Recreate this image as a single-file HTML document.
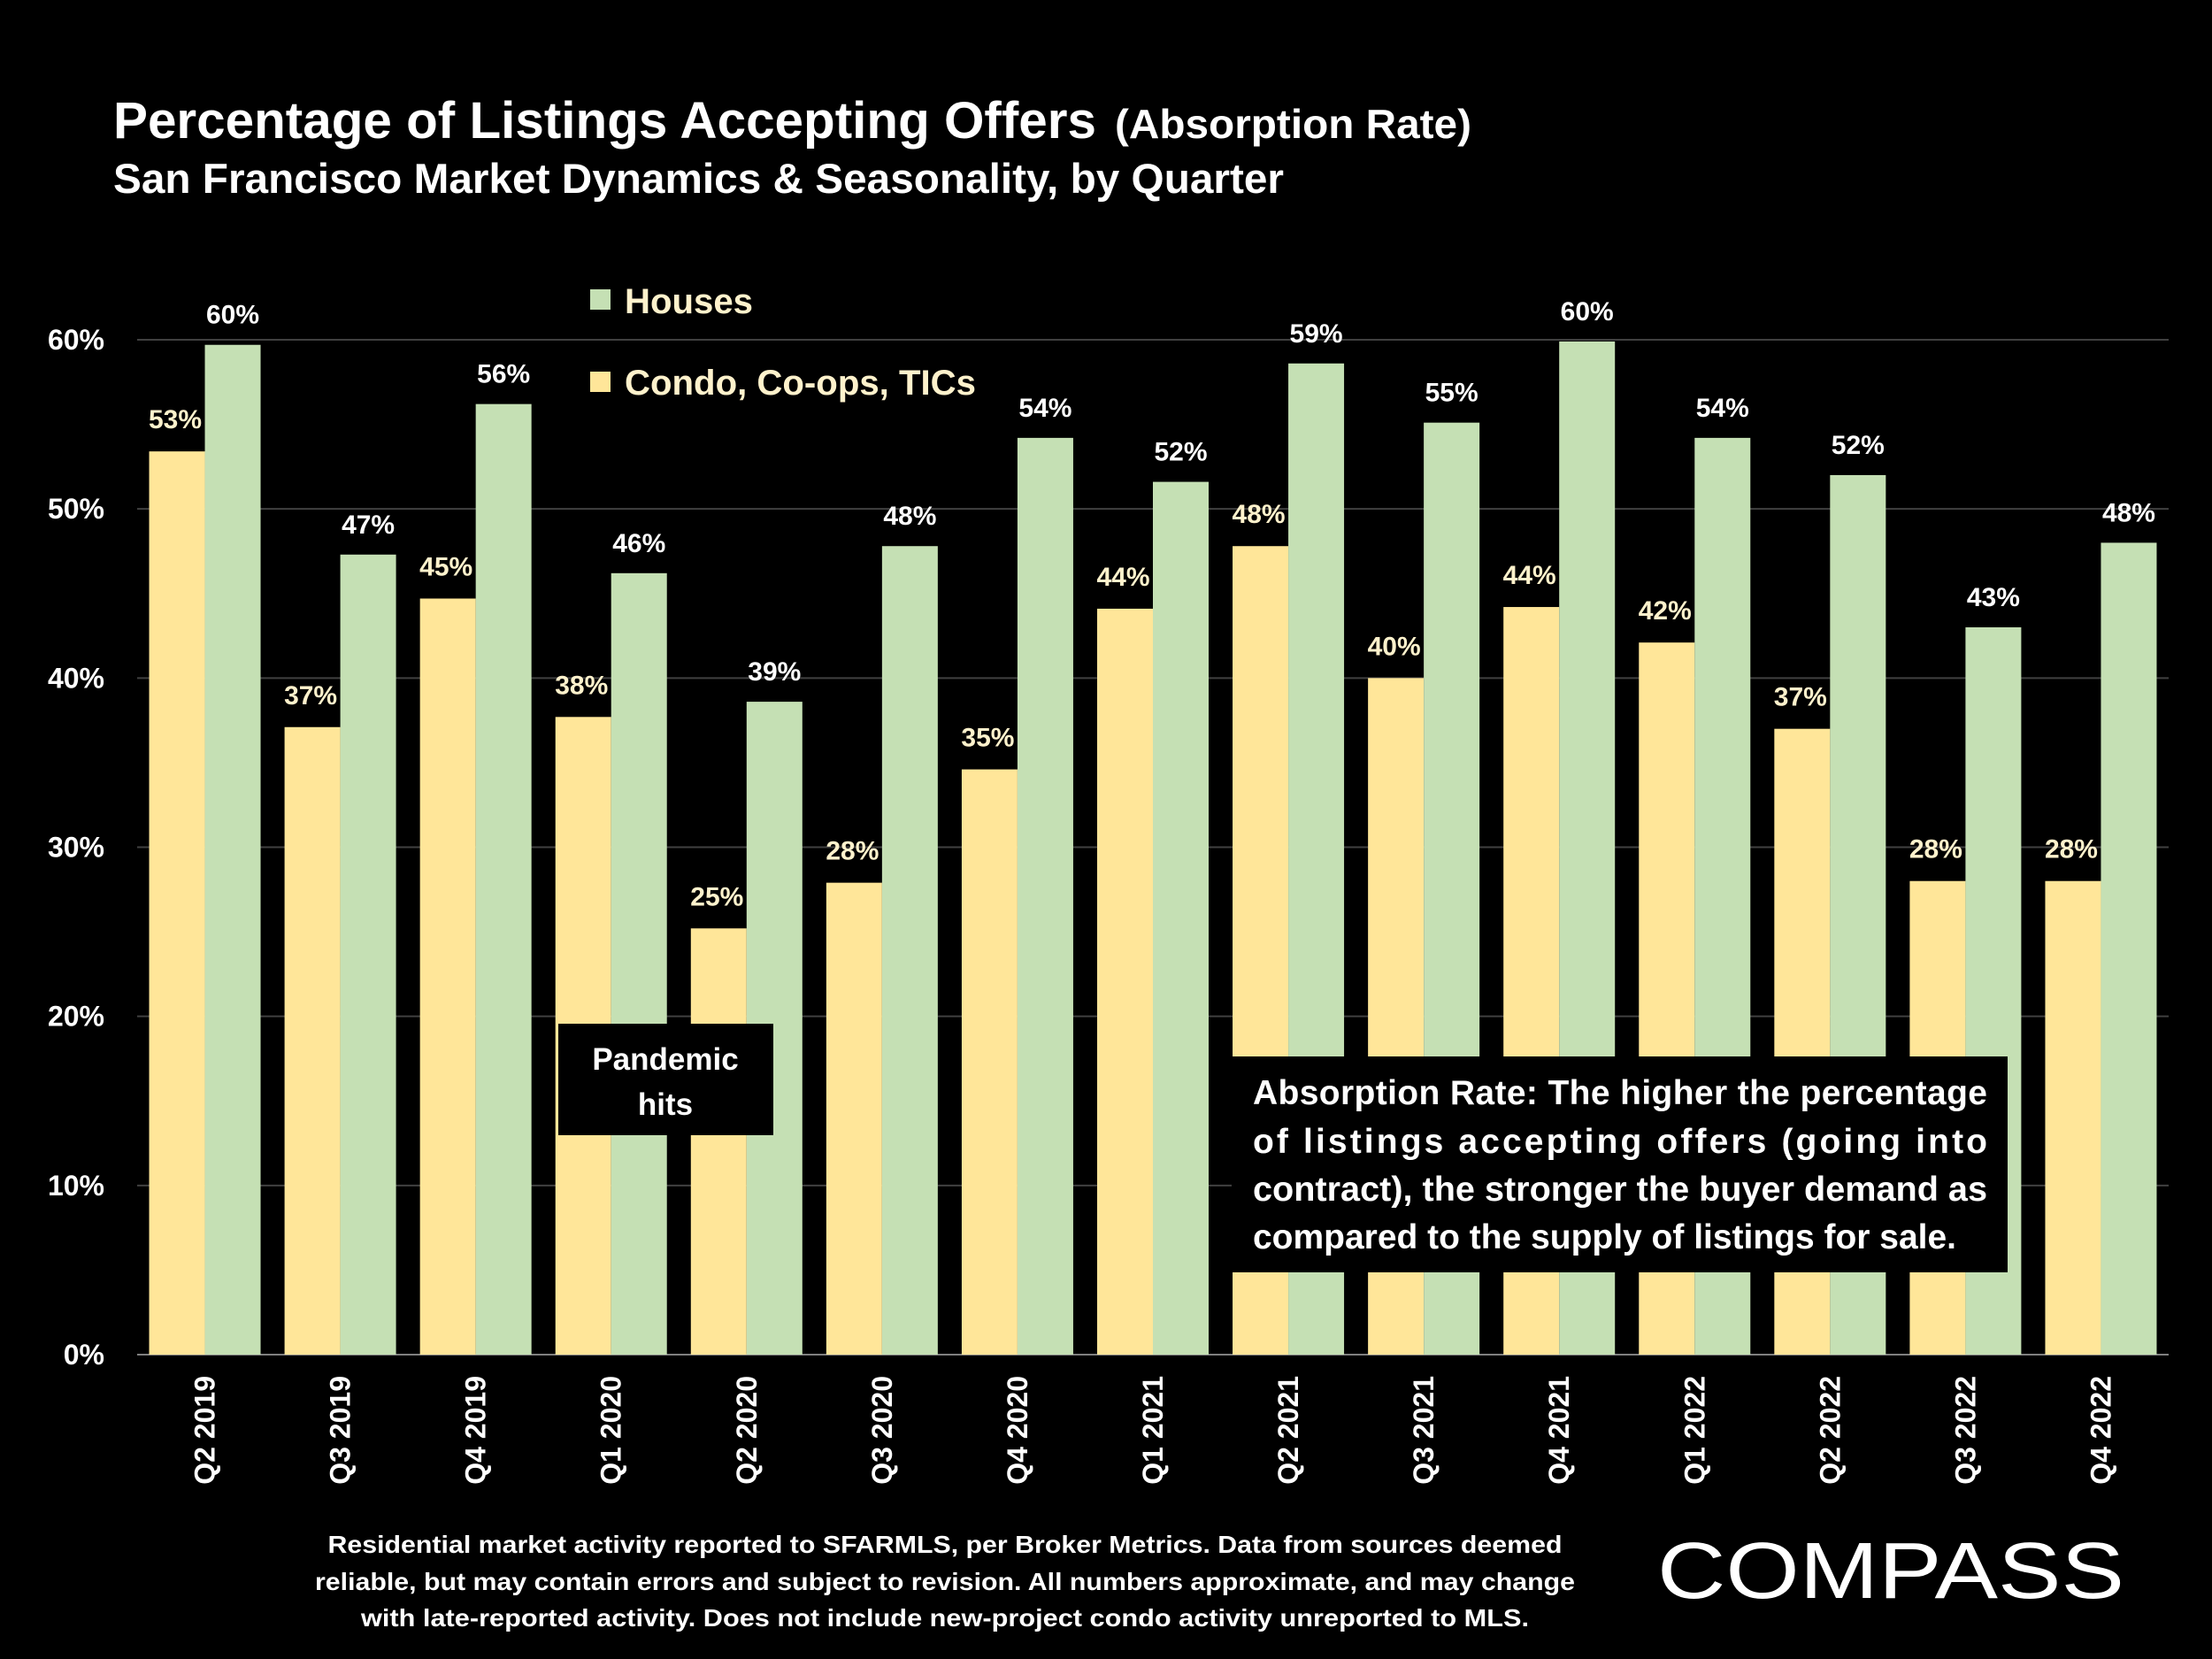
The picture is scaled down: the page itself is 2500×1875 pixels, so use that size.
<!DOCTYPE html>
<html><head><meta charset="utf-8">
<style>
html,body{margin:0;padding:0;background:#000;}
svg{display:block;font-family:"Liberation Sans",sans-serif;}
</style></head>
<body>
<svg id="chart" width="2500" height="1875" viewBox="0 0 2500 1875" xmlns="http://www.w3.org/2000/svg">
<rect width="2500" height="1875" fill="#000"/>
<text x="128" y="156" fill="#fff" font-weight="bold" font-size="58" textLength="1111" lengthAdjust="spacingAndGlyphs">Percentage of Listings Accepting Offers</text>
<text x="1260" y="156" fill="#fff" font-weight="bold" font-size="46" textLength="403" lengthAdjust="spacingAndGlyphs">(Absorption Rate)</text>
<text x="128" y="218" fill="#fff" font-weight="bold" font-size="47" textLength="1323" lengthAdjust="spacingAndGlyphs">San Francisco Market Dynamics &amp; Seasonality, by Quarter</text>
<g id="grid"></g>
<g id="yticks"></g>
<g id="bars"></g>
<g id="xlabels"></g>
<g>
<g>
<rect x="667" y="327" width="23" height="23" fill="#C5E0B4"/>
<text x="706" y="354" fill="#FFF2CC" font-weight="bold" font-size="40" textLength="145" lengthAdjust="spacingAndGlyphs">Houses</text></g>
<g>
<rect x="667" y="420" width="23" height="23" fill="#FFE699"/>
<text x="706" y="446" fill="#FFF2CC" font-weight="bold" font-size="40" textLength="397" lengthAdjust="spacingAndGlyphs">Condo, Co-ops, TICs</text></g>
</g>
<g>
<rect x="631" y="1157" width="243" height="126" fill="#000"/>
<text x="752" y="1209" fill="#fff" font-weight="bold" font-size="35" text-anchor="middle">Pandemic</text>
<text x="752" y="1260" fill="#fff" font-weight="bold" font-size="35" text-anchor="middle">hits</text>
</g>
<g>
<rect x="1392" y="1194" width="877" height="244" fill="#000"/>
<text x="1416" y="1248" fill="#fff" font-weight="bold" font-size="39" textLength="830" lengthAdjust="spacing">Absorption Rate: The higher the percentage</text>
<text x="1416" y="1303" fill="#fff" font-weight="bold" font-size="39" textLength="830" lengthAdjust="spacing">of listings accepting offers (going into</text>
<text x="1416" y="1357" fill="#fff" font-weight="bold" font-size="39" textLength="830" lengthAdjust="spacingAndGlyphs">contract), the stronger the buyer demand as</text>
<text x="1416" y="1411" fill="#fff" font-weight="bold" font-size="39" textLength="795" lengthAdjust="spacingAndGlyphs">compared to the supply of listings for sale.</text>
</g>
<g fill="#fff" font-weight="bold" font-size="28" text-anchor="middle">
<text x="1068" y="1755" textLength="1395" lengthAdjust="spacingAndGlyphs">Residential market activity reported to SFARMLS, per Broker Metrics. Data from sources deemed</text>
<text x="1068" y="1797" textLength="1424" lengthAdjust="spacingAndGlyphs">reliable, but may contain errors and subject to revision. All numbers approximate, and may change</text>
<text x="1068" y="1838" textLength="1320" lengthAdjust="spacingAndGlyphs">with late-reported activity. Does not include new-project condo activity unreported to MLS.</text>
</g>
<text x="1873" y="1806" fill="#fff" font-size="90" textLength="528" lengthAdjust="spacingAndGlyphs">COMPASS</text>
</svg>
<script>
const categories=["Q2 2019","Q3 2019","Q4 2019","Q1 2020","Q2 2020","Q3 2020","Q4 2020","Q1 2021","Q2 2021","Q3 2021","Q4 2021","Q1 2022","Q2 2022","Q3 2022","Q4 2022"];
const condoValues=[53.4,37.1,44.7,37.7,25.2,27.9,34.6,44.1,47.8,40.0,44.2,42.1,37.0,28.0,28.0];
const houseValues=[59.7,47.3,56.2,46.2,38.6,47.8,54.2,51.6,58.6,55.1,59.9,54.2,52.0,43.0,48.0];
const yTicks=[0,10,20,30,40,50,60];
const NS="http://www.w3.org/2000/svg";
const X0=155,X1=2451,Y0=1531,Y60=384;
const groupW=(X1-X0)/categories.length, barW=63;
function y(v){return Y0-(Y0-Y60)*v/60;}
function gx(i){return X0+i*groupW;}
function mk(tag,attrs,parent){const e=document.createElementNS(NS,tag);for(const k in attrs)e.setAttribute(k,attrs[k]);parent.appendChild(e);return e;}
const grid=document.getElementById('grid'),yt=document.getElementById('yticks'),bars=document.getElementById('bars'),xl=document.getElementById('xlabels');
yTicks.forEach(t=>{
  const l=mk('line',{x1:X0,x2:X1,y1:y(t),y2:y(t),stroke:t===0?'#7f7f7f':'#404040','stroke-width':2},grid);
  
  
  const tx=mk('text',{x:118,y:y(t)+11,fill:'#fff','font-weight':'bold','font-size':32,'text-anchor':'end'},yt);
  tx.textContent=t+'%';
  
  
});
categories.forEach((c,i)=>{
  const cx=gx(i)+groupW/2;
  const cX=cx-barW, hX=cx;
  const rc=mk('rect',{x:cX,y:y(condoValues[i]),width:barW,height:Y0-y(condoValues[i]),fill:'#FFE699'},bars);
  
  
  const rh=mk('rect',{x:hX,y:y(houseValues[i]),width:barW,height:Y0-y(houseValues[i]),fill:'#C5E0B4'},bars);
  
  
  const lc=mk('text',{x:cX+barW/2-2,y:y(condoValues[i])-26,fill:'#FFF2CC','font-weight':'bold','font-size':30,'text-anchor':'middle'},bars);
  lc.textContent=Math.round(condoValues[i])+'%';
  
  
  const lh=mk('text',{x:hX+barW/2,y:y(houseValues[i])-24,fill:'#fff','font-weight':'bold','font-size':30,'text-anchor':'middle'},bars);
  lh.textContent=Math.round(houseValues[i])+'%';
  
  
  const xt=mk('text',{transform:`translate(${cx+11},1555) rotate(-90)`,fill:'#fff','font-weight':'bold','font-size':32,'text-anchor':'end'},xl);
  xt.textContent=c;
  
  
});
</script>
</body></html>
